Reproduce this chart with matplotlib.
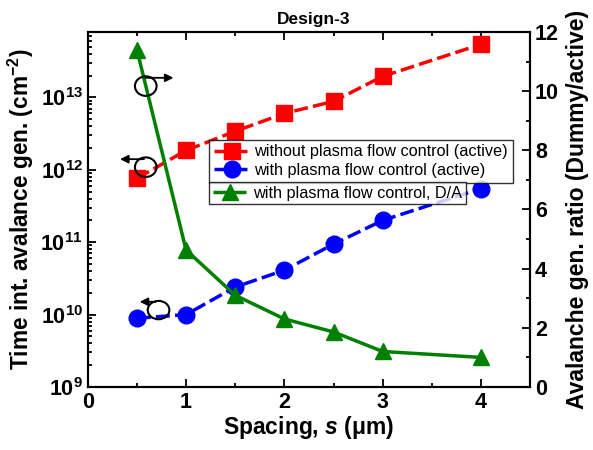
import matplotlib
matplotlib.use('Agg')
import matplotlib.pyplot as plt
from matplotlib.patches import Ellipse
from matplotlib.lines import Line2D
from matplotlib.ticker import MultipleLocator, LogLocator, NullFormatter

plt.rcParams['font.family'] = 'Liberation Sans'
plt.rcParams['font.weight'] = 'bold'
plt.rcParams['mathtext.fontset'] = 'custom'
plt.rcParams['mathtext.rm'] = 'Liberation Sans:bold'
plt.rcParams['mathtext.bf'] = 'Liberation Sans:bold'
plt.rcParams['mathtext.it'] = 'Liberation Sans:bold:italic'

spacing = [0.5, 1, 1.5, 2, 2.5, 3, 4]
without_pfc = [7.6e11, 1.85e12, 3.4e12, 6.0e12, 8.8e12, 1.95e13, 5.4e13]
with_pfc = [8.9e9, 1.0e10, 2.4e10, 4.1e10, 9.4e10, 2.0e11, 5.5e11]
ratio_da = [11.4, 4.63, 3.1, 2.3, 1.86, 1.2, 1.0]

fig = plt.figure(figsize=(5.93, 4.5), dpi=100)
ax = fig.add_axes([0.148, 0.14, 0.746, 0.789])
ax2 = ax.twinx()

dash = (0, (4, 1.5))
ax.plot(spacing, without_pfc, color='red', ls=dash, lw=2.5,
        marker='s', ms=11, zorder=3)
ax.plot(spacing, with_pfc, color='blue', ls=dash, lw=2.5,
        marker='o', ms=12, zorder=3)
ax2.plot(spacing, ratio_da, color='green', ls='-', lw=2.5,
         marker='^', ms=12)

ax.set_yscale('log')
ax.set_xlim(0, 4.5)
ax.set_ylim(1e9, 8e13)
ax2.set_ylim(0, 12)

ax.xaxis.set_major_locator(MultipleLocator(1))
ax.xaxis.set_minor_locator(MultipleLocator(0.5))
ax.yaxis.set_major_locator(LogLocator(base=10, numticks=10))
ax.yaxis.set_minor_locator(LogLocator(base=10, subs=range(2, 10), numticks=20))
ax.yaxis.set_minor_formatter(NullFormatter())
ax2.yaxis.set_major_locator(MultipleLocator(2))
ax2.yaxis.set_minor_locator(MultipleLocator(1))

ax.tick_params(which='both', direction='in', top=True, labelsize=15.5, width=1.3)
ax.tick_params(which='major', length=6)
ax.tick_params(which='minor', length=3)
ax2.tick_params(which='both', direction='in', labelsize=15.5, width=1.3)
ax2.tick_params(which='major', length=6)
ax2.tick_params(which='minor', length=3)
for a in (ax, ax2):
    for s in a.spines.values():
        s.set_linewidth(1.5)

ax.set_xlabel('Spacing, $s$ (\u03bcm)', fontsize=16.5, fontweight='bold', labelpad=1)
ax.set_ylabel(r'Time int. avalance gen. (cm$^{-2}$)', fontsize=16.3, fontweight='bold', labelpad=3)
ax2.set_ylabel('Avalanche gen. ratio (Dummy/active)', fontsize=16.5, fontweight='bold', labelpad=5)
ax.set_title('Design-3', fontsize=12.5, fontweight='bold', pad=6, x=0.51)

# axis indicator circles and arrows
for (cx, cy, w, h) in [(0.59, 10.17, 0.22, 0.66), (0.59, 7.43, 0.22, 0.66), (0.72, 2.6, 0.22, 0.62)]:
    ax2.add_patch(Ellipse((cx, cy), w, h, fill=False, ec='black', lw=1.5, zorder=4))
arrow = dict(arrowstyle='-|>', color='black', lw=1.3, mutation_scale=12)
ax2.annotate('', xy=(0.9, 10.45), xytext=(0.56, 10.45), arrowprops=arrow)
ax2.annotate('', xy=(0.3, 7.7), xytext=(0.6, 7.7), arrowprops=arrow)
ax2.annotate('', xy=(0.5, 2.88), xytext=(0.72, 2.88), arrowprops=arrow)

legfont = {'family': 'Liberation Sans', 'weight': 'normal', 'size': 11.7}
h1 = [Line2D([], [], color='red', ls=dash, lw=2.5, marker='s', ms=11),
      Line2D([], [], color='blue', ls=dash, lw=2.5, marker='o', ms=12)]
leg1 = ax2.legend(h1, ['without plasma flow control (active)', 'with plasma flow control (active)'],
                  loc='upper left', bbox_to_anchor=(0.274, 0.697), frameon=True, fancybox=False,
                  edgecolor='black', handlelength=2.2, handletextpad=0.3, borderpad=0.3,
                  labelspacing=0.2, borderaxespad=0, prop=legfont)
leg1.get_frame().set_linewidth(1.0)
ax2.add_artist(leg1)
h2 = [Line2D([], [], color='green', ls=dash, lw=2.5, marker='^', ms=12)]
leg2 = ax2.legend(h2, ['with plasma flow control, D/A'],
                  loc='upper left', bbox_to_anchor=(0.274, 0.577), frameon=True, fancybox=False,
                  edgecolor='black', handlelength=2.2, handletextpad=0.3, borderpad=0.22,
                  borderaxespad=0, prop=legfont)
leg2.get_frame().set_linewidth(1.0)

fig.savefig('out.png', dpi=100)
